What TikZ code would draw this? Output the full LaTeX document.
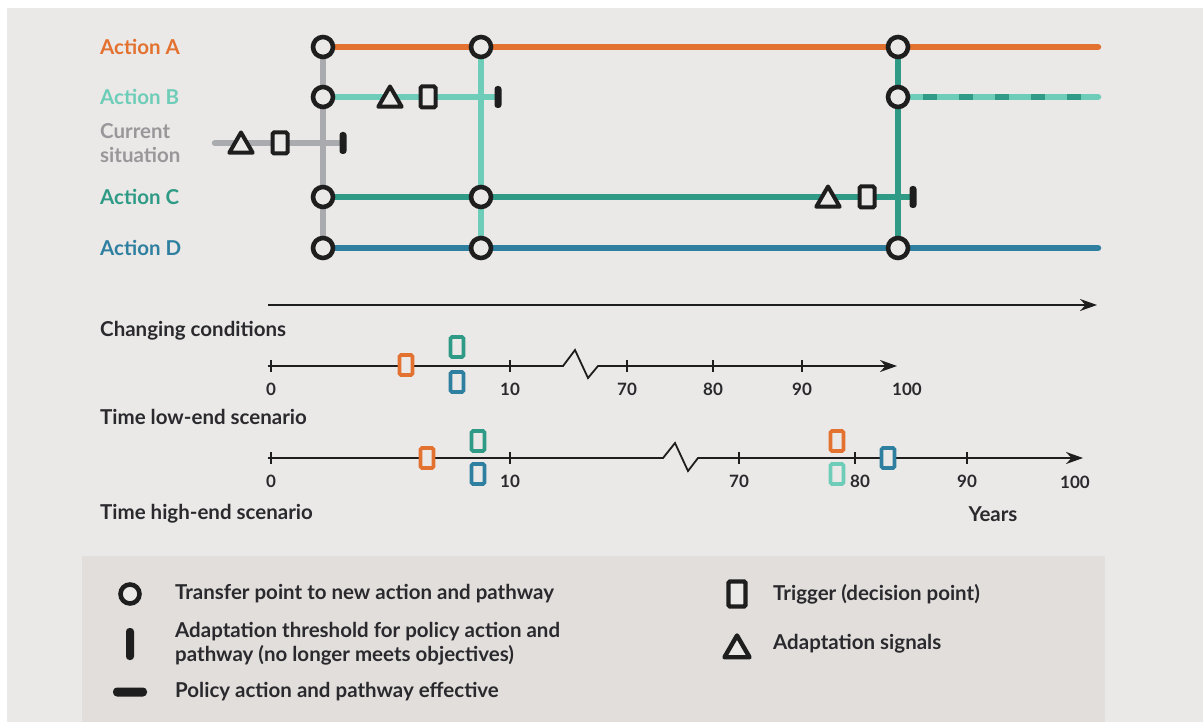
\documentclass[tikz,border=0pt]{standalone}
\usepackage{fontspec}
\setmainfont{Lato}
\usetikzlibrary{arrows.meta,shapes.geometric}

\definecolor{bg}{HTML}{EAE9E7}
\definecolor{legendbg}{HTML}{E2DEDB}
\definecolor{ink}{HTML}{1E1E1E}
\definecolor{txt}{HTML}{2A2A2E}
\definecolor{actA}{HTML}{E3712F}
\definecolor{actB}{HTML}{6ECDB8}
\definecolor{actC}{HTML}{2F9B86}
\definecolor{actD}{HTML}{2F80A0}
\definecolor{cur}{HTML}{AAABAE}
\definecolor{curtxt}{HTML}{9A979B}

\pgfdeclarelayer{back}
\pgfdeclarelayer{lines}
\pgfsetlayers{back,lines,main}

\begin{document}
\begin{tikzpicture}[x=1pt,y=-1pt,
  font=\bfseries\fontsize{20.5}{24}\selectfont,
  pathline/.style={line width=6.5pt,line cap=round},
  xfer/.style={circle,draw=ink,line width=4.6pt,fill=bg,minimum size=20pt,inner sep=0pt},
  signal/.style={regular polygon,regular polygon sides=3,draw=ink,line width=4pt,
    line join=round,fill=bg,minimum size=27pt,inner sep=0pt,yshift=-3pt},
  trigger/.style={rectangle,draw=ink,line width=4pt,rounded corners=1.5pt,fill=bg,
    minimum width=15pt,minimum height=21pt,inner sep=0pt},
  threshold/.style={rectangle,fill=ink,rounded corners=3pt,minimum width=7pt,
    minimum height=22pt,inner sep=0pt},
  ttrig/.style={rectangle,draw=#1,line width=3.6pt,rounded corners=1.5pt,fill=bg,
    minimum width=13pt,minimum height=20pt,inner sep=0pt},
  axis/.style={line width=1.8pt,draw=ink},
  tick/.style={line width=1.6pt,draw=ink},
  ticklab/.style={font=\bfseries\fontsize{17}{20}\selectfont,text=txt,inner sep=0pt},
  rowlab/.style={anchor=west,inner sep=0pt},
  heading/.style={anchor=west,inner sep=0pt,text=txt,font=\bfseries\fontsize{20.5}{24}\selectfont},
  legtext/.style={anchor=west,inner sep=0pt,text=txt,align=left,
    font=\bfseries\fontsize{20.5}{24}\selectfont},
]
\useasboundingbox (0,0) rectangle (1203,722);

% page backgrounds
\begin{pgfonlayer}{back}
  \fill[white] (0,0) rectangle (1203,722);
  \fill[bg] (7,8) rectangle (1203,722);
  \fill[legendbg] (82,556) rectangle (1105,722);
\end{pgfonlayer}

% ---------- row labels ----------
\node[rowlab,text=actA] (labA) at (100,47) {Action A};
\node[rowlab,text=actB] (labB) at (100,97) {Action B};
\node[rowlab,text=curtxt,align=left] (labCur) at (100,143) {Current\\situation};
\node[rowlab,text=actC] (labC) at (100,197) {Action C};
\node[rowlab,text=actD] (labD) at (100,248) {Action D};

% ---------- transfer points ----------
\node[xfer] (a1) at (323,47) {};
\node[xfer] (a2) at (481,47) {};
\node[xfer] (a3) at (898,47) {};
\node[xfer] (b1) at (323,97) {};
\node[xfer] (b3) at (898,97) {};
\node[xfer] (c1) at (323,197) {};
\node[xfer] (c2) at (481,197) {};
\node[xfer] (d1) at (323,248) {};
\node[xfer] (d2) at (481,248) {};
\node[xfer] (d3) at (898,248) {};

\coordinate (aEnd) at (1098,47);
\coordinate (bEnd) at (1098,97);
\coordinate (dEnd) at (1098,248);
\coordinate (curStart) at (215,143);

% ---------- signals, triggers, thresholds ----------
\node[signal] (curSig) at (241,143) {};
\node[trigger] (curTrig) at (280,143) {};
\node[threshold] (curThr) at (343,143) {};

\node[signal] (bSig) at (390,97) {};
\node[trigger] (bTrig) at (428,97) {};
\node[threshold] (bThr) at (498,97) {};

\node[signal] (cSig) at (828,197) {};
\node[trigger] (cTrig) at (867,197) {};
\node[threshold] (cThr) at (913,197) {};

% ---------- pathway lines ----------
\begin{pgfonlayer}{lines}
  % vertical transfers
  \draw[pathline,cur] (a1.center) -- (d1.center);
  \draw[pathline,actB] (a2.center) -- (d2.center);
  \draw[pathline,actC] (a3.center) -- (d3.center);
  % horizontal actions
  \draw[pathline,cur] (curStart) -- (curThr.center);
  \draw[pathline,actA] (a1.center) -- (aEnd);
  \draw[pathline,actB] (b1.center) -- (bThr.center);
  \draw[pathline,actC] (c1.center) -- (cThr.center);
  \draw[pathline,actD] (d1.center) -- (dEnd);
  % Action B resumed after Action C: dashed two-tone
  \draw[pathline,actB] (b3.center) -- (bEnd);
  \draw[line width=6.5pt,actC,dash pattern=on 14pt off 22pt,dash phase=11pt]
    (b3.center) -- (bEnd);
\end{pgfonlayer}

% ---------- changing-conditions arrow ----------
\coordinate (ccStart) at (268,305);
\coordinate (ccEnd) at (1097,305);
\draw[axis,-{Stealth[length=17pt,width=12pt]}] (ccStart) -- (ccEnd);
\node[heading] (hCC) at (100,331) {Changing conditions};

% ---------- low-end timeline ----------
\coordinate (lS) at (268,366);
\coordinate (lB1) at (563,366);
\coordinate (lB2) at (575,350);
\coordinate (lB3) at (588,378);
\coordinate (lB4) at (598,366);
\coordinate (lE) at (897,366);
\draw[axis,line join=miter,-{Stealth[length=17pt,width=12pt]}]
  (lS) -- (lB1) -- (lB2) -- (lB3) -- (lB4) -- (lE);
\foreach \x/\v in {271/0,510/10,627/70,713/80,802/90}{
  \draw[tick] (\x,360) -- (\x,372);
  \node[ticklab] (lt\v) at (\x,389) {\v};
}
\node[ticklab] (lt100) at (907,389) {100};
\node[ttrig=actA] (lTa) at (406,365) {};
\node[ttrig=actC] (lTc) at (457,347) {};
\node[ttrig=actD] (lTd) at (457,382) {};
\node[heading] (hLow) at (100,417) {Time low-end scenario};

% ---------- high-end timeline ----------
\coordinate (hS) at (268,458);
\coordinate (hB1) at (663,458);
\coordinate (hB2) at (675,443);
\coordinate (hB3) at (688,471);
\coordinate (hB4) at (698,458);
\coordinate (hE) at (1083,458);
\draw[axis,line join=miter,-{Stealth[length=17pt,width=12pt]}]
  (hS) -- (hB1) -- (hB2) -- (hB3) -- (hB4) -- (hE);
\foreach \x/\v in {271/0,510/10,739/70,855/80,967/90}{
  \draw[tick] (\x,452) -- (\x,464);
}
\node[ticklab] (ht0) at (271,481) {0};
\node[ticklab] (ht10) at (510,481) {10};
\node[ticklab] (ht70) at (739,481) {70};
\node[ticklab] (ht80) at (860,481) {80};
\node[ticklab] (ht90) at (967,481) {90};
\node[ticklab] (ht100) at (1075,482) {100};
\node[ttrig=actA] (hTa1) at (427,458) {};
\node[ttrig=actC] (hTc) at (478,441) {};
\node[ttrig=actD] (hTd1) at (478,474) {};
\node[ttrig=actA] (hTa2) at (837,441) {};
\node[ttrig=actB] (hTb) at (837,474) {};
\node[ttrig=actD] (hTd2) at (888,458) {};
\node[heading] (hHigh) at (100,514) {Time high-end scenario};
\node[heading,anchor=center] (yrs) at (993,514) {Years};

% ---------- legend ----------
\node[xfer,minimum size=19pt] (kX) at (130,594) {};
\node[legtext] (kXt) at (175,594) {Transfer point to new action and pathway};
\node[threshold,minimum width=8pt,minimum height=32pt,rounded corners=3.5pt] (kThr) at (130,644) {};
\node[legtext] (kThrt) at (175,644) {Adaptation threshold for policy action and\\pathway (no longer meets objectives)};
\node[rectangle,fill=ink,rounded corners=4pt,minimum width=34pt,minimum height=9pt,inner sep=0pt] (kEff) at (130,692) {};
\node[legtext] (kEfft) at (175,692) {Policy action and pathway effective};
\node[trigger,minimum width=17pt,minimum height=25pt,line width=4.4pt] (kTrig) at (737,594) {};
\node[legtext] (kTrigt) at (773,594) {Trigger (decision point)};
\node[signal,minimum size=29pt,line width=4.4pt] (kSig) at (737,647) {};
\node[legtext] (kSigt) at (773,644) {Adaptation signals};
\end{tikzpicture}
\end{document}
